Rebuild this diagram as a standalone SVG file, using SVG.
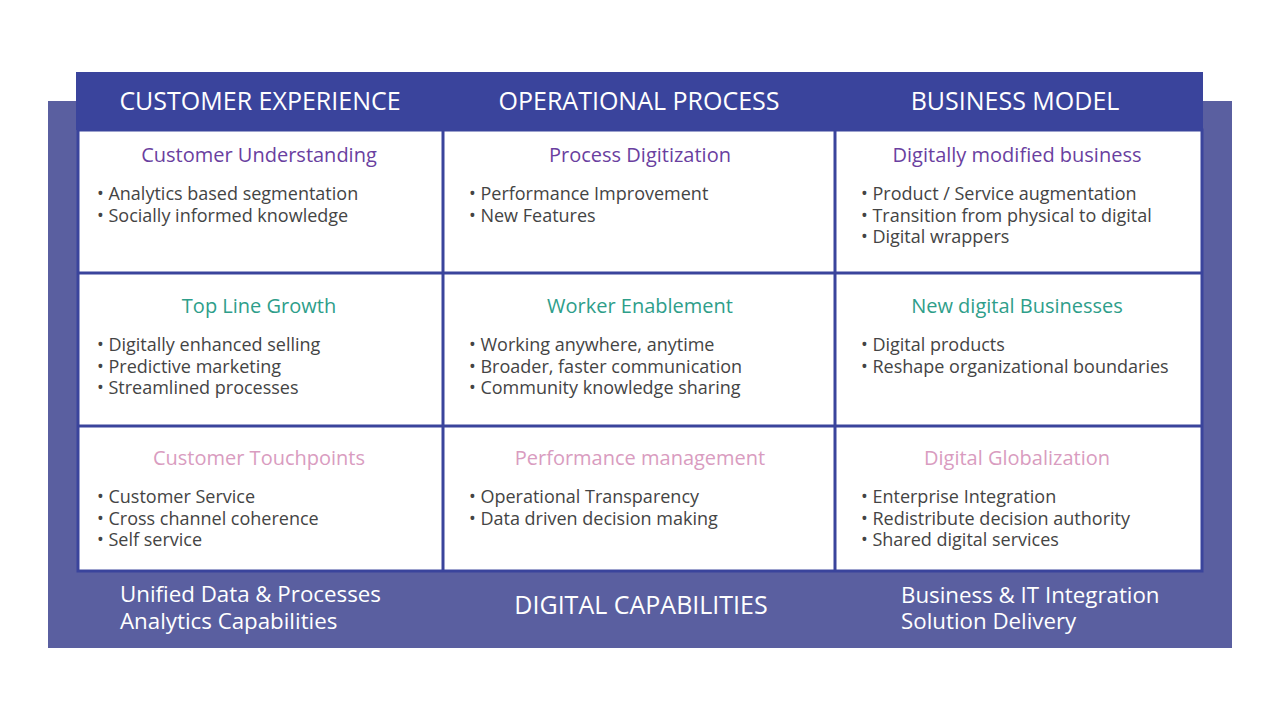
<svg xmlns="http://www.w3.org/2000/svg" width="1280" height="720" viewBox="0 0 1280 720">
<style>
text{font-family:"Open Sans","Noto Sans",sans-serif}
.h{fill:#fff;font-size:25px;text-anchor:middle}
.t{font-size:20px;text-anchor:middle}
.p{fill:#6a3fa0}.g{fill:#2e9e8a}.k{fill:#d99cc0}
.b{fill:#444;font-size:18px}
.f{fill:#fff;font-size:22.3px}
.fc{fill:#fff;font-size:25px;text-anchor:middle}
.ln{stroke:#3a449c;stroke-width:3}
</style>
<rect x="48" y="101" width="1184" height="547" fill="#5a5fa0"/>
<rect x="76" y="72" width="1127" height="58" fill="#3a449c"/>
<rect x="78" y="130" width="1124" height="441" fill="#fff" class="ln"/>
<g id="grid">
<line class="ln" x1="443" y1="130" x2="443" y2="571"/>
<line class="ln" x1="835" y1="130" x2="835" y2="571"/>
<line class="ln" x1="78" y1="273" x2="1202" y2="273"/>
<line class="ln" x1="78" y1="426" x2="1202" y2="426"/>
</g>
<g id="headers">
<text class="h" x="260" y="110">CUSTOMER EXPERIENCE</text>
<text class="h" x="639" y="110">OPERATIONAL PROCESS</text>
<text class="h" x="1015" y="110">BUSINESS MODEL</text>
</g>
<g id="c11"><text class="t p" x="259" y="162">Customer Understanding</text>
<text class="b" x="97" y="200">• Analytics based segmentation</text><text class="b" x="97" y="222">• Socially informed knowledge</text></g>
<g id="c12"><text class="t p" x="640" y="162">Process Digitization</text>
<text class="b" x="469" y="200">• Performance Improvement</text><text class="b" x="469" y="222">• New Features</text></g>
<g id="c13"><text class="t p" x="1017" y="162">Digitally modified business</text>
<text class="b" x="861" y="200">• Product / Service augmentation</text><text class="b" x="861" y="222">• Transition from physical to digital</text><text class="b" x="861" y="243">• Digital wrappers</text></g>
<g id="c21"><text class="t g" x="259" y="313">Top Line Growth</text>
<text class="b" x="97" y="351">• Digitally enhanced selling</text><text class="b" x="97" y="373">• Predictive marketing</text><text class="b" x="97" y="394">• Streamlined processes</text></g>
<g id="c22"><text class="t g" x="640" y="313">Worker Enablement</text>
<text class="b" x="469" y="351">• Working anywhere, anytime</text><text class="b" x="469" y="373">• Broader, faster communication</text><text class="b" x="469" y="394">• Community knowledge sharing</text></g>
<g id="c23"><text class="t g" x="1017" y="313">New digital Businesses</text>
<text class="b" x="861" y="351">• Digital products</text><text class="b" x="861" y="373">• Reshape organizational boundaries</text></g>
<g id="c31"><text class="t k" x="259" y="465">Customer Touchpoints</text>
<text class="b" x="97" y="503">• Customer Service</text><text class="b" x="97" y="525">• Cross channel coherence</text><text class="b" x="97" y="546">• Self service</text></g>
<g id="c32"><text class="t k" x="640" y="465">Performance management</text>
<text class="b" x="469" y="503">• Operational Transparency</text><text class="b" x="469" y="525">• Data driven decision making</text></g>
<g id="c33"><text class="t k" x="1017" y="465">Digital Globalization</text>
<text class="b" x="861" y="503">• Enterprise Integration</text><text class="b" x="861" y="525">• Redistribute decision authority</text><text class="b" x="861" y="546">• Shared digital services</text></g>
<g id="footer">
<text class="f" x="120" y="602">Unified Data &amp; Processes</text>
<text class="f" x="120" y="629">Analytics Capabilities</text>
<text class="fc" x="641" y="614">DIGITAL CAPABILITIES</text>
<text class="f" x="901" y="603">Business &amp; IT Integration</text>
<text class="f" x="901" y="629">Solution Delivery</text>
</g>
</svg>
